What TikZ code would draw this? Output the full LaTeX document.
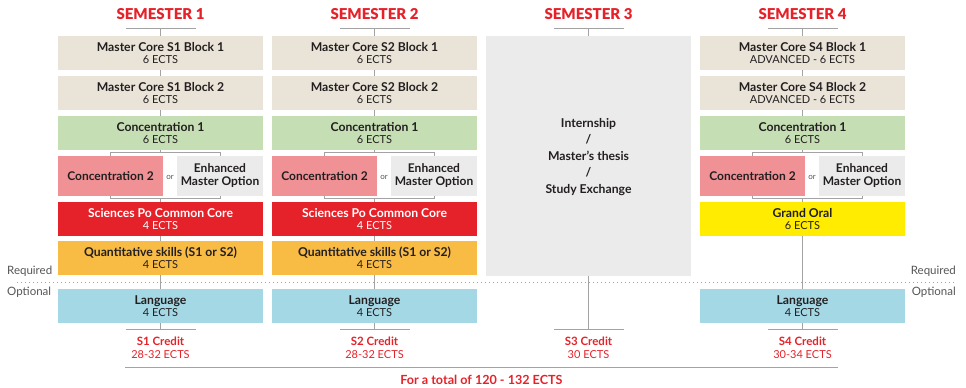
\documentclass[tikz,border=0pt]{standalone}
\usepackage{fontspec}
\setmainfont{Lato}
\newfontfamily\blackfont{Lato Black}
\usetikzlibrary{backgrounds}
\definecolor{semred}{HTML}{E52229}
\definecolor{beige}{HTML}{EAE3D7}
\definecolor{green1}{HTML}{C5DEB4}
\definecolor{pink1}{HTML}{F09196}
\definecolor{lgray}{HTML}{EBEBEB}
\definecolor{orange1}{HTML}{F8BB43}
\definecolor{lblue}{HTML}{A5D8E5}
\definecolor{yellow1}{HTML}{FFEC00}
\definecolor{txt}{HTML}{231F20}
\definecolor{linec}{HTML}{A3A3A3}
\definecolor{labc}{HTML}{555555}
\newcommand\ects[1]{{\mdseries\fontsize{11}{12.3}\selectfont #1}}
\tikzset{
  blk/.style={inner sep=0pt, minimum width=205pt, minimum height=33.7pt, align=center,
    font=\fontsize{12.2}{12.3}\selectfont\bfseries, text=txt},
  half/.style={inner sep=0pt, minimum height=40pt, align=center,
    font=\fontsize{12}{13}\selectfont\bfseries, text=txt},
  semtitle/.style={font=\fontsize{15}{16}\selectfont\blackfont, text=semred, inner sep=0pt},
  credit/.style={align=center, font=\fontsize{11.5}{12.8}\selectfont\bfseries, text=semred, inner sep=0pt},
  conn/.style={draw=linec, line width=1pt},
  lab/.style={font=\fontsize{11.5}{12}\selectfont, text=labc, inner sep=0pt},
  ornode/.style={font=\fontsize{8}{9}\selectfont, text=labc, inner sep=0pt}
}
% #1 prefix, #2 centre x, #3 title
\newcommand\semhead[3]{%
  \node[semtitle] (#1t) at (#2,14) {#3};
  \coordinate (#1hl) at ({#2-35},28.7);
  \coordinate (#1hr) at ({#2+35},28.7);
  \coordinate (#1hc) at (#2,28.7);
  \coordinate (#1cl) at ({#2-35},329.3);
  \coordinate (#1cr) at ({#2+35},329.3);
  \coordinate (#1cc) at (#2,329.3);
}
\newcommand\optrow[2]{% #1 prefix, #2 centre x
  \node[half, fill=pink1, minimum width=105pt] (#1d) at ({#2-50},176) {Concentration 2};
  \node[half, fill=lgray, minimum width=86pt] (#1e) at ({#2+59.5},176) {Enhanced\\Master Option};
  \node[ornode] (#1or) at ({#2+9.5},177) {or};
  \coordinate (#1bt) at (#2,152.3);
  \coordinate (#1bb) at (#2,198.7);
}
\begin{document}
\begin{tikzpicture}[x=1pt,y=-1pt]
\useasboundingbox (0,0) rectangle (966,388);

% ---------- Semester 1
\semhead{a}{160.5}{SEMESTER 1}
\node[blk, fill=beige] (a1) at (160.5,52.85) {Master Core S1 Block 1\\\ects{6 ECTS}};
\node[blk, fill=beige] (a2) at (160.5,92.85) {Master Core S1 Block 2\\\ects{6 ECTS}};
\node[blk, fill=green1, minimum height=34pt] (a3) at (160.5,133) {Concentration 1\\\ects{6 ECTS}};
\optrow{a}{160.5}
\node[blk, fill=semred, text=white] (a5) at (160.5,218.85) {Sciences Po Common Core\\\ects{4 ECTS}};
\node[blk, fill=orange1] (a6) at (160.5,257.85) {Quantitative skills (S1 or S2)\\\ects{4 ECTS}};
\node[blk, fill=lblue] (a7) at (160.5,305.85) {Language\\\ects{4 ECTS}};
\node[credit] (acred) at (160.5,347.5) {S1 Credit\\\ects{28-32 ECTS}};

% ---------- Semester 2
\semhead{b}{374.5}{SEMESTER 2}
\node[blk, fill=beige] (b1) at (374.5,52.85) {Master Core S2 Block 1\\\ects{6 ECTS}};
\node[blk, fill=beige] (b2) at (374.5,92.85) {Master Core S2 Block 2\\\ects{6 ECTS}};
\node[blk, fill=green1, minimum height=34pt] (b3) at (374.5,133) {Concentration 1\\\ects{6 ECTS}};
\optrow{b}{374.5}
\node[blk, fill=semred, text=white] (b5) at (374.5,218.85) {Sciences Po Common Core\\\ects{4 ECTS}};
\node[blk, fill=orange1] (b6) at (374.5,257.85) {Quantitative skills (S1 or S2)\\\ects{4 ECTS}};
\node[blk, fill=lblue] (b7) at (374.5,305.85) {Language\\\ects{4 ECTS}};
\node[credit] (bcred) at (374.5,347.5) {S2 Credit\\\ects{28-32 ECTS}};

% ---------- Semester 3
\semhead{c}{588.5}{SEMESTER 3}
\node[blk, fill=lgray, minimum height=239.7pt] (c1) at (588.5,155.85) {};
\node[blk, font=\fontsize{12.2}{16.5}\selectfont\bfseries, minimum height=0pt] (c1t) at (588.5,157) {Internship\\/\\Master’s thesis\\/\\Study Exchange};
\node[credit] (ccred) at (588.5,347.5) {S3 Credit\\\ects{30 ECTS}};

% ---------- Semester 4
\semhead{d}{802.5}{SEMESTER 4}
\node[blk, fill=beige] (d1) at (802.5,52.85) {Master Core S4 Block 1\\\ects{ADVANCED - 6 ECTS}};
\node[blk, fill=beige] (d2) at (802.5,92.85) {Master Core S4 Block 2\\\ects{ADVANCED - 6 ECTS}};
\node[blk, fill=green1, minimum height=34pt] (d3) at (802.5,133) {Concentration 1\\\ects{6 ECTS}};
\optrow{d}{802.5}
\node[blk, fill=yellow1] (d5) at (802.5,218.85) {Grand Oral\\\ects{6 ECTS}};
\node[blk, fill=lblue] (d7) at (802.5,305.85) {Language\\\ects{4 ECTS}};
\node[credit] (dcred) at (802.5,347.5) {S4 Credit\\\ects{30-34 ECTS}};

% ---------- Required / Optional
\node[lab, anchor=west] (reqL) at (7,271.7) {Required};
\node[lab, anchor=west] (optL) at (7,292) {Optional};
\node[lab, anchor=east] (reqR) at (956,271.7) {Required};
\node[lab, anchor=east] (optR) at (956,292) {Optional};
\coordinate (dotL) at (17,282);
\coordinate (dotR) at (957,282);

% ---------- Total
\coordinate (totL) at (125,367);
\coordinate (totR) at (837.7,367);
\node[credit, font=\fontsize{12.6}{13}\selectfont\bfseries] (tot) at (481.4,379.5) {For a total of 120 - 132 ECTS};

\begin{scope}[on background layer]
  \draw[linec, line width=1pt, dash pattern=on 1pt off 3pt] (dotL) -- (dotR);
  \draw[conn] (totL) -- (totR);
  \foreach \p in {a,b,c,d} {
    \draw[conn] (\p hl) -- (\p hr);
    \draw[conn] (\p hc) -- (\p 1.north);
    \draw[conn] (\p cl) -- (\p cr);
  }
  \foreach \p in {a,b,d} {
    \draw[conn] (\p 1.south) -- (\p 2.north);
    \draw[conn] (\p 2.south) -- (\p 3.north);
    \draw[conn] (\p 3.south) -- (\p bt);
    \draw[conn] (\p d.center |- \p bt) rectangle (\p e.center |- \p bb);
    \draw[conn] (\p bb) -- (\p 5.north);
    \draw[conn] (\p 5.south) -- (\p 7.north);
    \draw[conn] (\p 7.south) -- (\p cc);
  }
  \draw[conn] (c1.south) -- (ccc);
\end{scope}
\end{tikzpicture}
\end{document}
